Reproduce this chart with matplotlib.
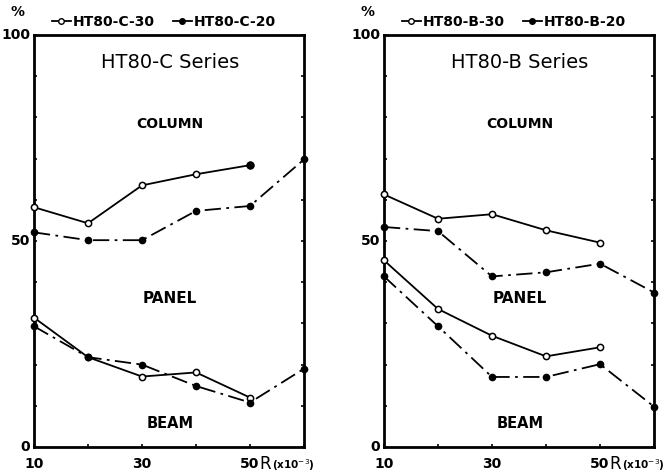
import matplotlib.pyplot as plt
from matplotlib.lines import Line2D

plt.rcParams['font.family'] = ['DejaVu Sans']

x = [10, 20, 30, 40, 50, 60]

# HT80-C series (left)
c30_upper = [58.2, 54.3, 63.5, 66.2, 68.4]
c30_lower = [31.4, 21.8, 17.1, 18.1, 12.0]
c20_upper = [52.1, 50.2, 50.2, 57.3, 58.5, 69.8]
c20_lower = [29.3, 21.8, 20.0, 14.8, 10.8, 19.0]

# HT80-B series (right)
b30_upper = [61.3, 55.4, 56.5, 52.6, 49.6]
b30_lower = [45.3, 33.5, 27.0, 22.0, 24.2]
b20_upper = [53.4, 52.4, 41.4, 42.4, 44.5, 37.5]
b20_lower = [41.4, 29.3, 17.0, 17.0, 20.1, 9.8]

fig = plt.figure(figsize=(6.72, 4.75), dpi=100)
axL = fig.add_axes([34/672, 1-447/475, 270/672, 412/475])
axR = fig.add_axes([384/672, 1-447/475, 270/672, 412/475])


def draw(ax, up30, lo30, up20, lo20, name, tag, fill_end=False):
    for ys in (up30, lo30):
        ax.plot(x[:len(ys)], ys, '-', color='k', lw=1.3, marker='o', ms=4.5,
                mfc='white', mec='k', mew=1.1, clip_on=False, zorder=3)
    if fill_end:
        # last point of the upper line is drawn solid in the original
        ax.plot(x[len(up30)-1], up30[-1], 'o', color='k', ms=5, zorder=4)
    for ys in (up20, lo20):
        ax.plot(x[:len(ys)], ys, color='k', lw=1.3, ls=(0, (9, 3, 1.5, 3)),
                marker='o', ms=4.5, mfc='k', mec='k', clip_on=False, zorder=3)
    ax.set_xlim(10, 60)
    ax.set_ylim(0, 100)
    for s in ax.spines.values():
        s.set_linewidth(2)
    ax.set_xticks([10, 20, 30, 40, 50, 60])
    ax.set_yticks(range(0, 101, 10))
    ax.set_xticklabels([])
    ax.set_yticklabels([])
    ax.tick_params(direction='in', length=2.5, width=1.2, top=False, right=True)
    ax.text(35.2, 93.4, name, ha='center', va='center', fontsize=14)
    ax.text(35.2, 78.3, 'COLUMN', ha='center', va='center', fontsize=10, fontweight='bold')
    ax.text(35.2, 36.0, 'PANEL', ha='center', va='center', fontsize=11, fontweight='bold')
    ax.text(35.2, 5.8, 'BEAM', ha='center', va='center', fontsize=10.5, fontweight='bold')
    for v in (10, 30, 50):
        ax.text(v, -2.5, str(v), ha='center', va='top', fontsize=10, fontweight='bold')
    ax.text(51.8, -2.0, 'R', ha='left', va='top', fontsize=12)
    ax.text(54.0, -2.5, '(x10$^{-3}$)', ha='left', va='top', fontsize=7.5, fontweight='bold')
    for v, lab in ((0, '0'), (50, '50'), (100, '100')):
        ax.text(9.3, v, lab, ha='right', va='center', fontsize=10, fontweight='bold')
    ax.text(8.2, 104, '%', ha='right', va='bottom', fontsize=10, fontweight='bold')
    h1 = Line2D([], [], color='k', lw=1.3, marker='o', ms=4, mfc='white', mec='k')
    h2 = Line2D([], [], color='k', lw=1.3, marker='o', ms=4, mfc='k', mec='k')
    ax.legend([h1, h2], ['HT80-%s-30' % tag, 'HT80-%s-20' % tag], ncol=2,
              loc='lower center', bbox_to_anchor=(0.48, 1.0), frameon=False,
              handlelength=1.4, handletextpad=0.1, columnspacing=1.3,
              borderaxespad=0.05, prop={'size': 10, 'weight': 'bold'})


draw(axL, c30_upper, c30_lower, c20_upper, c20_lower, 'HT80-C Series', 'C', fill_end=True)
draw(axR, b30_upper, b30_lower, b20_upper, b20_lower, 'HT80-B Series', 'B')

fig.savefig('out.png', dpi=100)
